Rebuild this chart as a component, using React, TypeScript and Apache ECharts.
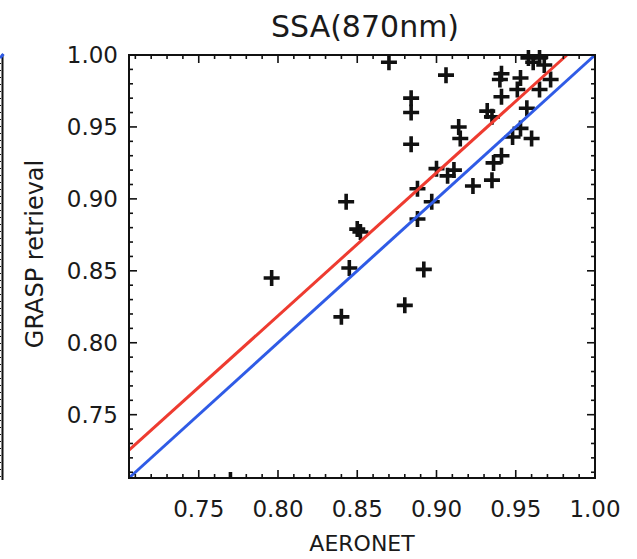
import React, { useEffect, useRef } from "react";
import * as echarts from "echarts";

const AXIS_MIN = 0.706;
const AXIS_MAX = 1.0;
const MAJOR_STEP = 0.05;
const majorTicks = [0.75, 0.8, 0.85, 0.9, 0.95, 1.0];
const minorTicks = [
  0.71, 0.72, 0.73, 0.74, 0.76, 0.77, 0.78, 0.79, 0.81, 0.82, 0.83, 0.84,
  0.86, 0.87, 0.88, 0.89, 0.91, 0.92, 0.93, 0.94, 0.96, 0.97, 0.98, 0.99,
];

const titleText = "SSA(870nm)";
const xName = "AERONET";
const yName = "GRASP retrieval";

const aeronet = [
  0.870, 0.906, 0.884, 0.884, 0.884, 0.914, 0.915, 0.900, 0.907, 0.911,
  0.923, 0.888, 0.897, 0.888, 0.960, 0.948, 0.953, 0.941, 0.936, 0.935,
  0.932, 0.935, 0.957, 0.941, 0.951, 0.965, 0.941, 0.940, 0.953, 0.972,
  0.958, 0.965, 0.968, 0.961, 0.843, 0.850, 0.852, 0.796, 0.845, 0.840,
  0.880, 0.892,
];
const grasp = [
  0.995, 0.986, 0.970, 0.960, 0.938, 0.950, 0.942, 0.921, 0.916, 0.920,
  0.909, 0.907, 0.898, 0.886, 0.942, 0.943, 0.949, 0.930, 0.925, 0.913,
  0.961, 0.957, 0.963, 0.971, 0.976, 0.976, 0.987, 0.983, 0.984, 0.983,
  0.998, 0.998, 0.993, 0.995, 0.898, 0.879, 0.877, 0.845, 0.852, 0.818,
  0.826, 0.851,
];
// one point sits on the lower edge and is mostly cut off by the frame
const edgePointX = [0.770];
const edgePointY = [0.706];

const oneToOneX = [0.706, 1.0];
const oneToOneY = [0.706, 1.0];
const fitX = [0.706, 0.9823];
const fitY = [0.7253, 1.0];

const FONT = "DejaVu Sans";
const INK = "#111";
const PLUS = "path://M-1.8,-8H1.8V-1.8H8V1.8H1.8V8H-1.8V1.8H-8V-1.8H-1.8Z";

function isMajor(v: number) {
  const k = v / MAJOR_STEP;
  return Math.abs(k - Math.round(k)) < 1e-6;
}

function valueAxis(kind: "x" | "y", position: string, main: boolean) {
  const ax: any = {
    type: "value",
    min: AXIS_MIN,
    max: AXIS_MAX,
    position,
    splitNumber: 6,
    minInterval: MAJOR_STEP,
    maxInterval: MAJOR_STEP,
    splitLine: { show: false },
    axisLine: { show: true, onZero: false, lineStyle: { color: INK, width: 2 } },
    axisTick: { show: false },
    axisLabel: main
      ? {
          show: true,
          formatter: (v: number) => (isMajor(v) ? v.toFixed(2) : ""),
          fontFamily: FONT,
          fontSize: 23,
          color: "#1a1a1a",
          margin: kind === "x" ? 19 : 11,
        }
      : { show: false },
  };
  if (kind === "x" && main) {
    ax.name = xName;
    ax.nameLocation = "middle";
    ax.nameGap = 54;
    ax.nameTextStyle = { fontFamily: FONT, fontSize: 22, color: "#1a1a1a" };
  }
  return ax;
}

export default function App() {
  const ref = useRef<HTMLDivElement>(null);
  useEffect(() => {
    if (!ref.current) return;
    const chart = echarts.init(ref.current, undefined, { renderer: "svg" });
    const points: any[] = aeronet.map((x, i) => [x, grasp[i]]);
    edgePointX.forEach((x, i) => {
      points.push({
        value: [x, edgePointY[i]],
        symbol: "rect",
        symbolSize: [3.6, 6],
        symbolOffset: [0, -3],
      });
    });
    const baseGraphics: any[] = [
      {
        type: "text",
        x: 35,
        y: 254,
        rotation: Math.PI / 2,
        style: {
          text: yName,
          font: `24px "${FONT}"`,
          fill: "#1a1a1a",
          textAlign: "center",
          textVerticalAlign: "middle",
        },
      },
      {
        type: "line",
        shape: { x1: 2.5, y1: 54, x2: 2.5, y2: 480 },
        style: { stroke: INK, lineWidth: 2 },
      },
      {
        type: "line",
        shape: { x1: 0.5, y1: 56, x2: 0.5, y2: 478 },
        style: { stroke: INK, lineWidth: 1, lineDash: [1, 6] },
      },
      {
        type: "line",
        shape: { x1: 0, y1: 58, x2: 3.5, y2: 54 },
        style: { stroke: "#2f5be6", lineWidth: 3 },
      },
    ];
    chart.setOption({
      animation: false,
      backgroundColor: "#ffffff",
      title: {
        text: titleText,
        left: 266,
        top: 6,
        textStyle: { fontFamily: FONT, fontSize: 30, fontWeight: "normal", color: "#1a1a1a" },
      },
      grid: { left: 129, top: 55, width: 466, height: 423, outerBoundsMode: "none" },
      xAxis: [valueAxis("x", "bottom", true), valueAxis("x", "top", false)],
      yAxis: [valueAxis("y", "left", true), valueAxis("y", "right", false)],
      graphic: baseGraphics,
      series: [
        {
          type: "scatter",
          name: "GRASP vs AERONET",
          xAxisIndex: 0,
          yAxisIndex: 0,
          data: points,
          symbol: PLUS,
          symbolSize: 16,
          clip: true,
          itemStyle: { color: INK, opacity: 1 },
        },
        {
          type: "line",
          xAxisIndex: 0,
          yAxisIndex: 0,
          data: fitX.map((x, i) => [x, fitY[i]]),
          symbol: "none",
          clip: true,
          lineStyle: { color: "#ee3b30", width: 3 },
        },
        {
          type: "line",
          xAxisIndex: 0,
          yAxisIndex: 0,
          data: oneToOneX.map((x, i) => [x, oneToOneY[i]]),
          symbol: "none",
          clip: true,
          lineStyle: { color: "#2f5be6", width: 3 },
        },
      ],
    });

    // frame and tick marks on all four sides, placed through the axes' own scales
    const finder = { gridIndex: 0 };
    const px = (v: [number, number]) => chart.convertToPixel(finder, v) as unknown as number[];
    const extra: any[] = [];
    const lo = px([AXIS_MIN, AXIS_MIN]);
    const hi = px([AXIS_MAX, AXIS_MAX]);
    if (lo && hi) {
      extra.push({
        type: "rect",
        z: 100,
        shape: { x: lo[0], y: hi[1], width: hi[0] - lo[0], height: lo[1] - hi[1] },
        style: { fill: "none", stroke: INK, lineWidth: 2 },
      });
      const w = 1.6;
      const addTicks = (vals: number[], len: number) => {
        vals.forEach((v) => {
          const p = px([v, v]);
          if (!p) return;
          const x = p[0];
          const y = p[1];
          extra.push(
            { type: "rect", z: 100, shape: { x: x - w / 2, y: lo[1] - len, width: w, height: len }, style: { fill: INK } },
            { type: "rect", z: 100, shape: { x: x - w / 2, y: hi[1], width: w, height: len }, style: { fill: INK } },
            { type: "rect", z: 100, shape: { x: lo[0], y: y - w / 2, width: len, height: w }, style: { fill: INK } },
            { type: "rect", z: 100, shape: { x: hi[0] - len, y: y - w / 2, width: len, height: w }, style: { fill: INK } }
          );
        });
      };
      addTicks(majorTicks, 8);
      addTicks(minorTicks, 4);
    }
    chart.setOption({ graphic: [...baseGraphics, ...extra] });

    return () => chart.dispose();
  }, []);
  return (
    <div
      ref={ref}
      style={{ position: "absolute", left: 0, top: 0, width: 637, height: 559, background: "#fff" }}
    />
  );
}
